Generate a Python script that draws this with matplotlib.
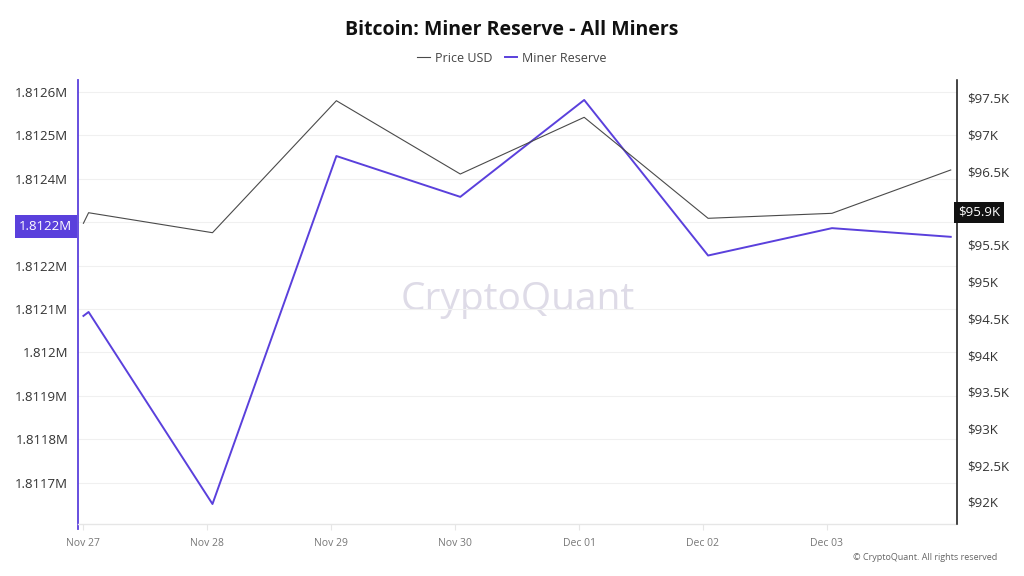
import matplotlib
matplotlib.use("Agg")
import matplotlib.pyplot as plt
import pandas as pd

plt.rcParams['font.family'] = ['Open Sans', 'DejaVu Sans']

# ---- data ----
times = ["2024-11-27 00:00", "2024-11-27 01:00", "2024-11-28 01:00", "2024-11-29 01:00",
         "2024-11-30 01:00", "2024-12-01 01:00", "2024-12-02 01:00", "2024-12-03 01:00",
         "2024-12-04 00:00"]
price_usd = [95794, 95938, 95666, 97463, 96465, 97237, 95862, 95930, 96520]
miner_reserve = [1812084, 1812093, 1811651, 1812452, 1812358, 1812581, 1812223, 1812286, 1812266]

x_tick_dates = ["2024-11-27", "2024-11-28", "2024-11-29", "2024-11-30",
                "2024-12-01", "2024-12-02", "2024-12-03"]
x_tick_labels = ["Nov 27", "Nov 28", "Nov 29", "Nov 30", "Dec 01", "Dec 02", "Dec 03"]

left_ticks = [1812600, 1812500, 1812400, 1812300, 1812200, 1812100, 1812000,
              1811900, 1811800, 1811700]
# the 1.8123M label is hidden behind the current-value badge in the reference
left_labels = ["1.8126M", "1.8125M", "1.8124M", "", "1.8122M", "1.8121M", "1.812M",
               "1.8119M", "1.8118M", "1.8117M"]
right_ticks = [92000, 92500, 93000, 93500, 94000, 94500, 95000, 95500, 96000, 96500, 97000, 97500]
# the $96K label is hidden behind the current-value badge in the reference
right_labels = ["$92K", "$92.5K", "$93K", "$93.5K", "$94K", "$94.5K", "$95K", "$95.5K",
                "", "$96.5K", "$97K", "$97.5K"]

reserve_badge_value = 1812290
reserve_badge_label = "1.8122M"
price_badge_value = 95945
price_badge_label = "$95.9K"

title = "Bitcoin: Miner Reserve - All Miners"

# ---- style ----
PURPLE = "#5a40dc"
GRAY_LINE = "#4a4a4a"
TICK_COLOR = "#333333"

t = pd.to_datetime(times)
xt = pd.to_datetime(x_tick_dates)

fig = plt.figure(figsize=(10.24, 5.76), dpi=100)
ax = fig.add_axes([78 / 1024, 1 - 524 / 576, (957 - 78) / 1024, (524 - 80) / 576])
ax2 = ax.twinx()

# reserve on left axis
ax.plot(t, miner_reserve, color=PURPLE, lw=1.4, zorder=3, label="Miner Reserve")
ax.set_ylim(1811605, 1812627)
ax.set_yticks(left_ticks)
ax.set_yticklabels(left_labels)
ax.grid(axis='y', color='#f0f0f0', lw=0.8)
ax.grid(axis='x', visible=False)

# price on right axis
ax2.plot(t, price_usd, color=GRAY_LINE, lw=0.8, zorder=3, label="Price USD")
ax2.set_ylim(91700, 97745)
ax2.set_yticks(right_ticks)
ax2.set_yticklabels(right_labels)

xmin = pd.Timestamp("2024-11-26 22:57")
xmax = pd.Timestamp("2024-12-04 01:13")
ax.set_xlim(xmin, xmax)
ax.set_xticks(xt)
ax.set_xticklabels(x_tick_labels)

for a in (ax, ax2):
    for s in a.spines.values():
        s.set_visible(False)
ax.spines['left'].set_visible(True)
ax.spines['left'].set_color(PURPLE)
ax.spines['left'].set_linewidth(1.3)
ax.spines['left'].set_bounds(1811605 - 12, 1812627)
ax2.spines['right'].set_visible(True)
ax2.spines['right'].set_color('#111111')
ax2.spines['right'].set_linewidth(1.1)
ax.spines['bottom'].set_visible(True)
ax.spines['bottom'].set_color('#e6e6e6')
ax.spines['bottom'].set_linewidth(1.0)

ax.tick_params(axis='y', length=0, pad=7, labelsize=9.5, labelcolor=TICK_COLOR)
ax2.tick_params(axis='y', length=0, pad=7, labelsize=9.5, labelcolor=TICK_COLOR)
ax.tick_params(axis='x', length=4, color='#e6e6e6', pad=6, labelsize=7.5, labelcolor='#777777')

# badges
ax.text(-0.0065, reserve_badge_value, reserve_badge_label, transform=ax.get_yaxis_transform(),
        ha='right', va='center', color='white', fontsize=9.5, zorder=10,
        bbox=dict(boxstyle='square,pad=0.35', fc=PURPLE, ec='none'), clip_on=False)
ax2.text(1.0015, price_badge_value, price_badge_label, transform=ax2.get_yaxis_transform(),
         ha='left', va='center', color='white', fontsize=9.5, zorder=10,
         bbox=dict(boxstyle='square,pad=0.3', fc='#111111', ec='none'), clip_on=False)

# watermark
ax.text(0.5, 0.505, "CryptoQuant", transform=ax.transAxes, ha='center', va='center',
        fontsize=28, color='#dedbe7', zorder=0)

# title & legend
fig.text(0.5, 1 - 30 / 576, title, ha='center', va='center', fontsize=14,
         fontweight='bold', color='#111111')
h1, l1 = ax2.get_legend_handles_labels()
h2, l2 = ax.get_legend_handles_labels()
leg = fig.legend(h1 + h2, l1 + l2, loc='center', bbox_to_anchor=(0.5, 1 - 58 / 576),
                 ncol=2, frameon=False, fontsize=9, handlelength=1.0, handletextpad=0.4,
                 columnspacing=1.0)
for txt in leg.get_texts():
    txt.set_color('#444444')

fig.text(997 / 1024, 1 - 558 / 576, "© CryptoQuant. All rights reserved", ha='right',
         va='center', fontsize=6.5, color='#666666')

fig.savefig("out.png", dpi=100, facecolor='white')
